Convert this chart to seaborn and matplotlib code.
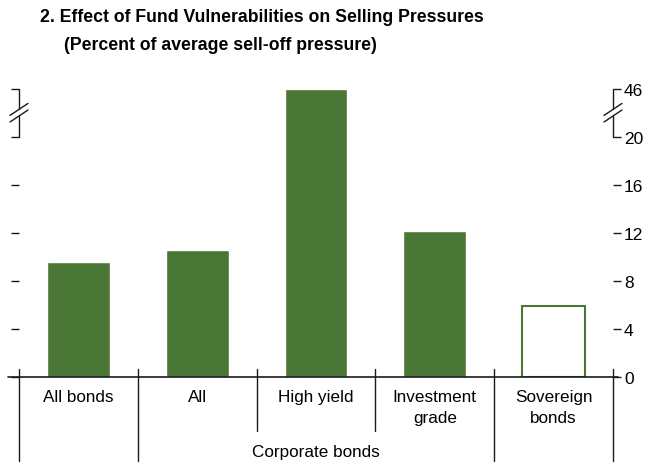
import matplotlib
matplotlib.use('Agg')
import matplotlib.pyplot as plt
import seaborn as sns
import pandas as pd

sns.set_style('white')
plt.rcParams['font.family'] = ['Liberation Sans', 'DejaVu Sans']
plt.rcParams['text.color'] = 'black'
plt.rcParams['ytick.color'] = 'black'
plt.rcParams['xtick.color'] = 'black'

# data
categories = ['All bonds', 'All', 'High yield', 'Investment\ngrade', 'Sovereign\nbonds']
values = [9.6, 10.6, 46, 12.2, 5.9]
group_label = 'Corporate bonds'
tick_values = [0, 4, 8, 12, 16, 20, 46]

GREEN = '#4a7636'
BREAK_LO, BREAK_HI = 20, 42   # axis break: 20 .. 42 is cut out


def squeeze(v):
    return v if v <= BREAK_LO else v - (BREAK_HI - BREAK_LO)


df = pd.DataFrame({'cat': categories, 'val': [squeeze(v) for v in values]})

fig = plt.figure(figsize=(6.53, 4.64), dpi=100)
ax = fig.add_axes([19 / 653, 86 / 464, 594 / 653, 300 / 464])

sns.barplot(data=df, x='cat', y='val', color=GREEN, saturation=1, width=0.53, ax=ax)
# sovereign bar is hollow
sov = ax.patches[4]
sov.set_facecolor('white')
sov.set_edgecolor(GREEN)
sov.set_linewidth(1.5)

ax.set_xlim(-0.5, 4.5)
ax.set_ylim(0, 25)
for s in ax.spines.values():
    s.set_visible(False)

lc = '#1a1a1a'

# y ticks, right side labelled
ax.set_yticks([squeeze(t) for t in tick_values])
ax.set_yticklabels([str(t) for t in tick_values])
ax.tick_params(axis='y', which='both', left=True, right=True, labelleft=False,
               labelright=True, direction='out', length=6, width=1, color=lc,
               labelsize=12.5, pad=2)
ax.set_xticks(range(len(categories)))
ax.set_xticklabels(categories, fontsize=12.3, linespacing=1.45)
ax.tick_params(axis='x', length=0, pad=9)
ax.set_xlabel('')
ax.set_ylabel('')

# x axis line
ax.plot([-0.593, 4.542], [0, 0], color=lc, lw=1.2, clip_on=False, zorder=5)
# separators
for x in [-0.5, 0.5, 1.5, 2.5, 3.5, 4.5]:
    bottom = -4.5 if x in (1.5, 2.5) else -7.0
    ax.plot([x, x], [0.67, bottom], color=lc, lw=1, clip_on=False)

# break brackets on both sides
for x in [-0.5, 4.5]:
    ax.plot([x, x], [20, 21.75], color=lc, lw=1, clip_on=False)
    ax.plot([x, x], [22.3, 24], color=lc, lw=1, clip_on=False)
    for yc in [22.3, 21.75]:
        dx, dy = 9 / 118.8, 6 / 12
        ax.plot([x - dx, x + dx], [yc - dy, yc + dy], color=lc, lw=1, clip_on=False)

ax.text(2, -6.25, group_label, ha='center', va='center', fontsize=12.3)

fig.text(40 / 653, 1 - 18 / 464, '2. Effect of Fund Vulnerabilities on Selling Pressures',
         fontsize=12.7, fontweight='bold', va='center', ha='left')
fig.text(64 / 653, 1 - 45 / 464, '(Percent of average sell-off pressure)',
         fontsize=12.7, fontweight='bold', va='center', ha='left')

fig.savefig('out.png', dpi=100)
